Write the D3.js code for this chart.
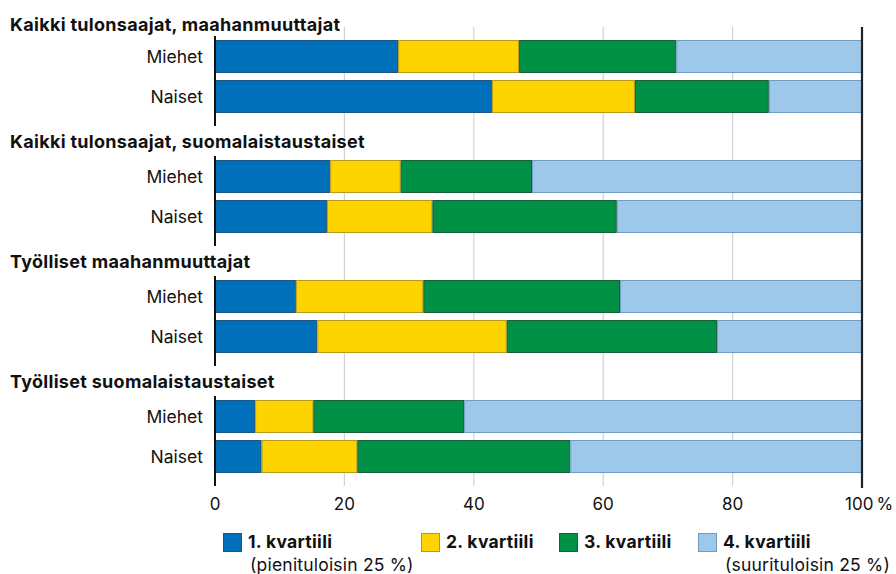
<!DOCTYPE html>
<html>
<head>
<meta charset="utf-8">
<script src="https://cdn.jsdelivr.net/npm/d3@7"></script>
<style>
  body { margin: 0; background: #fff; }
  text { font-family: Inter, "Liberation Sans", sans-serif; fill: #111; }
</style>
</head>
<body>
<div id="chart"></div>
<script>
// groups and rows
const groups = [
  "Kaikki tulonsaajat, maahanmuuttajat",
  "Kaikki tulonsaajat, suomalaistaustaiset",
  "Työlliset maahanmuuttajat",
  "Työlliset suomalaistaustaiset"
];
const rowLabels = ["Miehet", "Naiset"];

// shares (%) per quartile, order: group0 Miehet, group0 Naiset, group1 Miehet ...
const q1 = [28.3, 42.8, 17.8, 17.3, 12.5, 15.8, 6.2, 7.2];
const q2 = [18.7, 22.1, 10.9, 16.3, 19.7, 29.3, 9.0, 14.8];
const q3 = [24.3, 20.7, 20.3, 28.5, 30.4, 32.5, 23.3, 32.9];
const q4 = [28.7, 14.4, 51.0, 37.9, 37.4, 22.4, 61.5, 45.1];

const quartileKeys = ["q1", "q2", "q3", "q4"];
const quartileNames = ["1. kvartiili", "2. kvartiili", "3. kvartiili", "4. kvartiili"];
const quartileNotes = ["(pienituloisin 25 %)", "", "", "(suurituloisin 25 %)"];
const fills = { q1: "#0070bb", q2: "#fdd300", q3: "#009046", q4: "#9ec8ea" };
const strokes = { q1: "#1c5688", q2: "#b89a1a", q3: "#16603a", q4: "#6f9cc4" };

const xTicks = [0, 20, 40, 60, 80, 100];

const width = 896, height = 574;

const svg = d3.select("#chart")
  .append("svg")
  .attr("width", width)
  .attr("height", height);

// rows table for the stack
const rows = [];
groups.forEach((g, gi) => {
  rowLabels.forEach((r, ri) => {
    const i = gi * 2 + ri;
    rows.push({ group: gi, label: r, row: ri, q1: q1[i], q2: q2[i], q3: q3[i], q4: q4[i] });
  });
});

const x = d3.scaleLinear().domain([0, 100]).range([215, 862]);

// vertical layout: each group step 120px, bars 33px tall, 40px apart
const groupY = d3.scaleLinear().domain([0, 1]).range([40, 160]);
const barH = 33;
const rowStep = 40;
const barTop = d => groupY(d.group) + d.row * rowStep;

// gridlines
svg.append("g")
  .selectAll("line")
  .data(xTicks.filter(t => t > 0 && t < 100))
  .join("line")
  .attr("x1", d => x(d)).attr("x2", d => x(d))
  .attr("y1", 27).attr("y2", 486)
  .attr("stroke", "#d2d2d2")
  .attr("stroke-width", 1.2);

const series = d3.stack().keys(quartileKeys)(rows);

svg.append("g")
  .selectAll("g")
  .data(series)
  .join("g")
  .attr("fill", s => fills[s.key])
  .attr("stroke", s => strokes[s.key])
  .attr("stroke-width", 1)
  .selectAll("rect")
  .data(s => s)
  .join("rect")
  .attr("x", d => x(d[0]) + 0.5)
  .attr("y", d => barTop(d.data) + 0.5)
  .attr("width", d => x(d[1]) - x(d[0]) - 1)
  .attr("height", barH - 1);

// left axis segments per group
svg.append("g")
  .selectAll("line")
  .data(groups)
  .join("line")
  .attr("x1", x(0)).attr("x2", x(0))
  .attr("y1", (g, i) => groupY(i) - 4)
  .attr("y2", (g, i) => groupY(i) + rowStep + barH + 13)
  .attr("stroke", "#111")
  .attr("stroke-width", 2);

// right 100 % line
svg.append("line")
  .attr("x1", x(100)).attr("x2", x(100))
  .attr("y1", 27).attr("y2", 488)
  .attr("stroke", "#222")
  .attr("stroke-width", 2.2);

// group titles
svg.append("g")
  .selectAll("text")
  .data(groups)
  .join("text")
  .attr("x", 10)
  .attr("y", (g, i) => groupY(i) - (i === 0 ? 9 : 12))
  .style("font-size", "18px")
  .style("font-weight", "bold")
  .style("letter-spacing", "0.3px")
  .text(g => g);

// row labels
svg.append("g")
  .selectAll("text")
  .data(rows)
  .join("text")
  .attr("x", 203)
  .attr("y", d => barTop(d) + barH / 2)
  .attr("dy", "0.36em")
  .attr("text-anchor", "end")
  .style("font-size", "17.5px")
  .text(d => d.label);

// x tick labels
svg.append("g")
  .selectAll("text")
  .data(xTicks)
  .join("text")
  .attr("x", d => d === 100 ? x(d) - 17 : x(d))
  .attr("y", 510)
  .attr("text-anchor", d => d === 100 ? "start" : "middle")
  .style("font-size", "17px")
  .text(d => d === 100 ? "100\u2009%" : d);

// legend
const legendX = [223, 421, 559, 698];
const legend = svg.append("g")
  .selectAll("g")
  .data(quartileKeys)
  .join("g")
  .attr("transform", (k, i) => `translate(${legendX[i]},533)`);

legend.append("rect")
  .attr("x", 0.5).attr("y", 0.5)
  .attr("width", 18).attr("height", 18)
  .attr("fill", k => fills[k])
  .attr("stroke", k => strokes[k]);

legend.append("text")
  .attr("x", 25)
  .attr("y", 15)
  .style("font-size", "17.5px")
  .style("font-weight", "bold")
  .style("letter-spacing", "0.3px")
  .text((k, i) => quartileNames[i]);

legend.append("text")
  .attr("x", 27)
  .attr("y", 38)
  .style("font-size", "17.5px")
  .style("letter-spacing", "0.2px")
  .text((k, i) => quartileNotes[i]);
</script>
</body>
</html>
